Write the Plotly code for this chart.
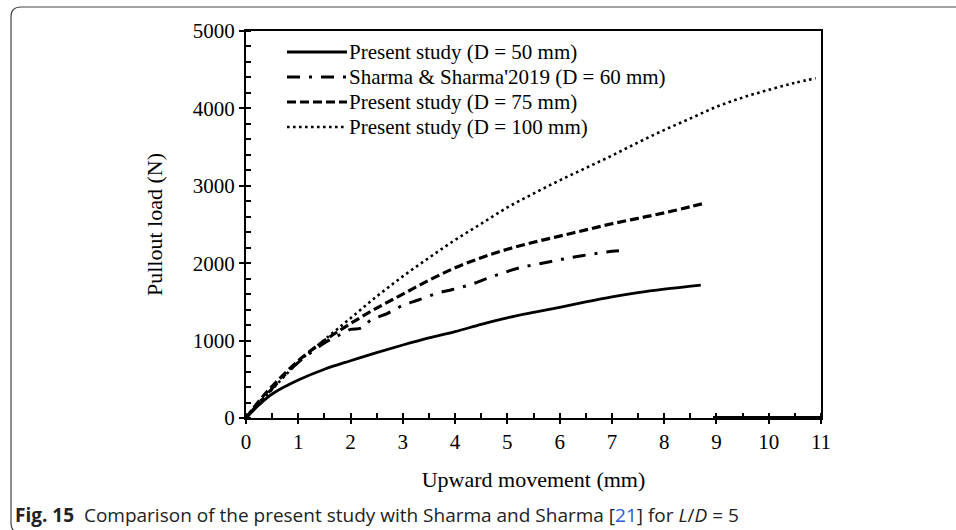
import plotly.graph_objects as go

# ---- data ----
x_d50 = [0, 0.25, 0.5, 1, 1.5, 2, 2.5, 3, 3.5, 4, 4.5, 5, 5.5, 6, 6.5, 7, 7.5, 8, 8.7]
y_d50 = [0, 170, 310, 490, 630, 740, 845, 943, 1035, 1115, 1210, 1295, 1365, 1430, 1500, 1565, 1620, 1665, 1718]

x_sharma = [0, 0.25, 0.5, 0.75, 1, 1.25, 1.5, 1.75, 2.0, 2.2, 2.4, 2.7, 3.0, 3.3, 3.65, 3.95,
            4.3, 4.6, 4.9, 5.2, 5.55, 5.9, 6.2, 6.55, 6.9, 7.25]
y_sharma = [0, 200, 380, 560, 720, 850, 970, 1060, 1145, 1160, 1270, 1350, 1455, 1525, 1610, 1660,
            1725, 1800, 1870, 1935, 1985, 2030, 2070, 2110, 2145, 2165]

x_d75 = [0, 0.25, 0.5, 1, 1.5, 2, 2.5, 3, 3.5, 4, 4.5, 5, 5.5, 6, 6.5, 7, 7.5, 8, 8.5, 8.8]
y_d75 = [0, 220, 410, 740, 1000, 1220, 1420, 1600, 1780, 1940, 2070, 2180, 2270, 2350, 2430, 2510, 2580, 2650, 2730, 2780]

x_d100 = [0, 0.25, 0.5, 1, 1.5, 2, 2.5, 3, 3.5, 4, 4.5, 5, 5.5, 6, 6.5, 7, 7.5, 8, 8.5, 9, 9.5, 10, 10.5, 10.9]
y_d100 = [0, 190, 370, 720, 1010, 1290, 1570, 1830, 2070, 2300, 2510, 2720, 2900, 3070, 3230, 3390,
          3560, 3720, 3870, 4020, 4140, 4240, 4330, 4390]

names = ["Present study (D = 50 mm)", "Sharma & Sharma'2019 (D = 60 mm)",
         "Present study (D = 75 mm)", "Present study (D = 100 mm)"]

x_ticks = list(range(0, 12))
y_ticks = [0, 1000, 2000, 3000, 4000, 5000]

SERIF = "Liberation Serif, Times New Roman, serif"

styles = [
    dict(color="black", width=2.8),
    dict(color="black", width=3, dash="13px,9px,3px,9px"),
    dict(color="black", width=3.2, dash="9px,4px"),
    dict(color="black", width=2.6, dash="2.6px,3.4px"),
]
series = [(x_d50, y_d50), (x_sharma, y_sharma), (x_d75, y_d75), (x_d100, y_d100)]

fig = go.Figure()
for (xs, ys), nm, st in zip(series, names, styles):
    fig.add_trace(go.Scatter(x=xs, y=ys, mode="lines", name=nm,
                             line=dict(shape="spline", **st)))
# empty trace to anchor overlay axes (used for crossing ticks)
fig.add_trace(go.Scatter(x=[], y=[], xaxis="x2", yaxis="y2", showlegend=False, hoverinfo="skip"))

axis_common = dict(showgrid=False, zeroline=False, linecolor="black", linewidth=2.2,
                   mirror=True, tickcolor="black", tickwidth=2,
                   tickfont=dict(family=SERIF, size=21, color="black"))

fig.update_layout(
    width=956, height=530,
    margin=dict(l=246, r=135, t=31, b=112),
    paper_bgcolor="white", plot_bgcolor="white",
    showlegend=False,
    xaxis=dict(range=[0, 11], tickvals=x_ticks, ticks="outside", ticklen=4,
               minor=dict(dtick=0.5, ticks="inside", ticklen=5, tickwidth=1.5, tickcolor="black"),
               title=dict(text="Upward movement (mm)", font=dict(family=SERIF, size=22, color="black"),
                          standoff=18),
               **axis_common),
    yaxis=dict(range=[0, 5000], tickvals=y_ticks, ticks="outside", ticklen=5,
               minor=dict(dtick=200, ticks="inside", ticklen=5, tickwidth=1.5, tickcolor="black"),
               title=dict(text="Pullout load (N)", font=dict(family=SERIF, size=22, color="black"),
                          standoff=24),
               **axis_common),
    xaxis2=dict(overlaying="x", anchor="y2", range=[0, 11], tickvals=x_ticks, ticks="inside",
                ticklen=5, tickwidth=2, tickcolor="black", showticklabels=False,
                showline=False, showgrid=False, zeroline=False, side="bottom"),
    yaxis2=dict(overlaying="y", anchor="x2", range=[0, 5000], tickvals=y_ticks, ticks="inside",
                ticklen=5, tickwidth=2, tickcolor="black", showticklabels=False,
                showline=False, showgrid=False, zeroline=False, side="left"),
)

W, H = 575.0, 387.0
def px(xp):
    return (xp - 246) / W
def py(yp):
    return (418 - yp) / H

# legend (drawn inside the plot, top-left)
legend_rows = [52, 77, 102, 127]
for nm, st, row in zip(names, styles, legend_rows):
    fig.add_shape(type="line", xref="paper", yref="paper", x0=px(287), x1=px(347),
                  y0=py(row), y1=py(row), line=st)
    fig.add_annotation(xref="paper", yref="paper", x=px(347), y=py(row), xanchor="left",
                       yanchor="middle", showarrow=False, text=nm,
                       font=dict(family=SERIF, size=21, color="black"))

# frame around the figure (rounded left corners, like the source page)
frame = dict(color="#444444", width=1.2)
Lx, Tp, Bt, rad = 11, 7, 533, 10
fig.add_shape(type="line", xref="paper", yref="paper", x0=px(Lx + rad), x1=px(975),
              y0=py(Tp), y1=py(Tp), line=frame)
fig.add_shape(type="line", xref="paper", yref="paper", x0=px(Lx), x1=px(Lx),
              y0=py(Tp + rad), y1=py(Bt - rad), line=frame)
fig.add_shape(type="path", xref="paper", yref="paper", line=frame,
              path=f"M {px(Lx)},{py(Tp + rad)} Q {px(Lx)},{py(Tp)} {px(Lx + rad)},{py(Tp)}")
fig.add_shape(type="path", xref="paper", yref="paper", line=frame,
              path=f"M {px(Lx)},{py(Bt - rad)} Q {px(Lx)},{py(Bt)} {px(Lx + rad)},{py(Bt)}")

# thicker stretch of the x-axis line at the right end (as in the source)
fig.add_shape(type="line", xref="paper", yref="paper", x0=px(713), x1=1.0, y0=0, y1=0,
              line=dict(color="black", width=4))

# caption
fig.add_annotation(
    xref="paper", yref="paper", x=px(13), y=py(515), xanchor="left", yanchor="middle",
    showarrow=False, align="left",
    text=("<b>Fig. 15</b>  Comparison of the present study with Sharma and Sharma "
          "[<span style='color:#2b59d9'>21</span>] for <i>L</i>/<i>D</i> = 5"),
    font=dict(family="Open Sans, Noto Sans, sans-serif", size=19, color="#222222"),
)

fig.write_html("out.html")
